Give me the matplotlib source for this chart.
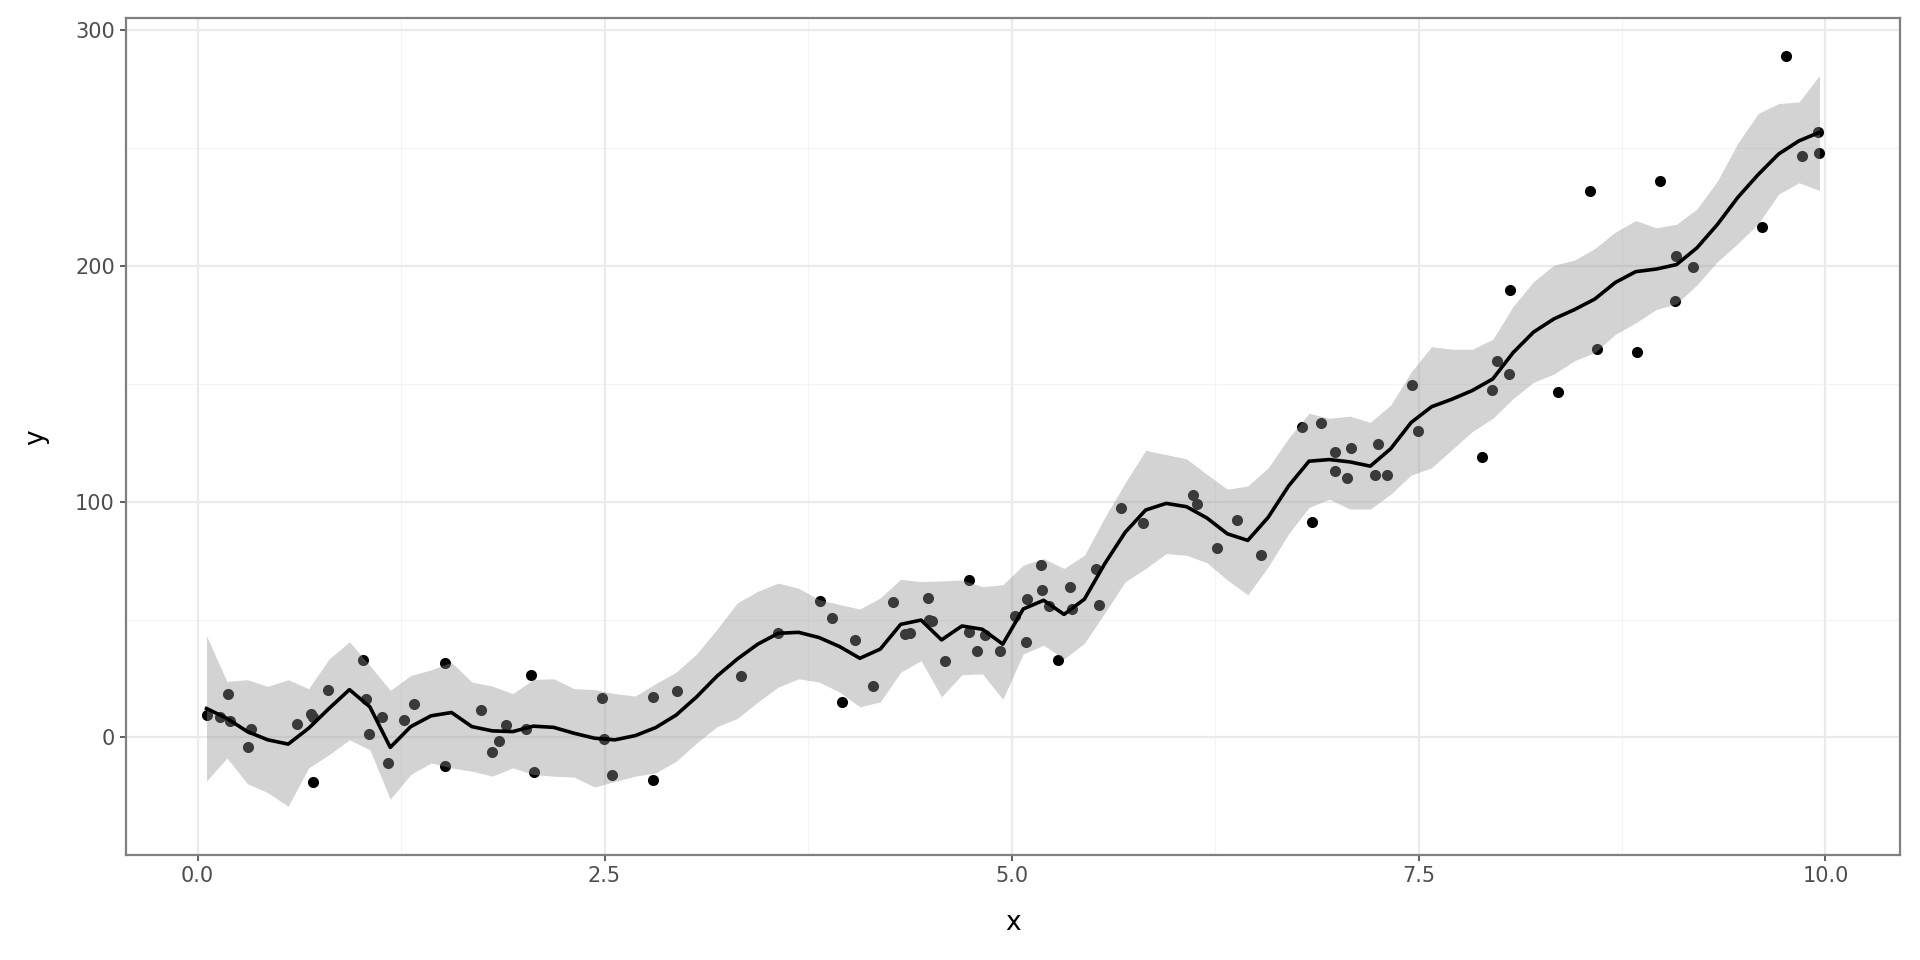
import matplotlib
matplotlib.use("Agg")
import matplotlib.pyplot as plt
import numpy as np

# observed points
x_pts = [0.055, 0.137, 0.188, 0.198, 0.307, 0.33, 0.61, 0.694, 0.706, 0.71,
         0.80, 1.017, 1.037, 1.054, 1.13, 1.17, 1.269, 1.332, 1.518, 1.522,
         1.743, 1.81, 1.85, 1.897, 2.02, 2.046, 2.069, 2.486, 2.497, 2.548,
         2.795, 2.795, 2.947, 3.339, 3.565, 3.826, 3.90, 3.958, 4.037, 4.152,
         4.27, 4.348, 4.377, 4.489, 4.49, 4.51, 4.59, 4.737, 4.741, 4.788,
         4.837, 4.927, 5.023, 5.089, 5.097, 5.183, 5.187, 5.232, 5.285, 5.359,
         5.373, 5.519, 5.539, 5.67, 5.805, 6.114, 6.141, 6.264, 6.385, 6.534,
         6.786, 6.843, 6.90, 6.988, 6.99, 7.063, 7.088, 7.232, 7.254, 7.307,
         7.457, 7.497, 7.888, 7.953, 7.981, 8.059, 8.065, 8.356, 8.555, 8.598,
         8.841, 8.985, 9.073, 9.083, 9.185, 9.613, 9.757, 9.855, 9.957, 9.963]
y_pts = [9.5, 8.8, 18.3, 7.0, -4.1, 3.5, 5.6, 9.8, -18.9, 8.8,
         20.3, 33.0, 16.2, 1.4, 8.5, -10.8, 7.4, 14.4, -12.0, 31.8,
         11.7, -6.3, -1.7, 5.2, 3.6, 26.6, -14.5, 16.8, -0.8, -15.9,
         -17.9, 17.3, 19.7, 26.0, 44.3, 58.0, 50.6, 15.1, 41.2, 21.7,
         57.3, 43.9, 44.5, 59.3, 49.8, 49.3, 32.3, 67.0, 44.9, 36.6,
         43.5, 36.5, 51.7, 40.4, 58.7, 73.1, 62.6, 55.9, 33.0, 63.8,
         54.5, 71.3, 56.3, 97.2, 91.0, 102.9, 99.0, 80.5, 92.1, 77.6,
         131.9, 91.5, 133.5, 113.1, 121.1, 110.2, 122.9, 111.5, 124.5, 111.2,
         149.6, 129.8, 119.0, 147.5, 159.7, 154.0, 189.9, 146.4, 232.0, 165.0,
         163.7, 235.9, 185.0, 204.4, 199.5, 216.6, 289.2, 246.7, 257.0, 247.9]

# fitted curve and its band (80 evenly spaced x)
fit = [12.3, 8.1, 2.5, -1.0, -2.8, 3.9, 12.3, 20.3, 13.0, -4.2,
       4.6, 9.2, 10.6, 4.6, 2.8, 2.5, 4.8, 4.3, 1.8, -0.3,
       -1.0, 0.8, 4.2, 9.5, 17.2, 26.0, 33.3, 39.6, 44.2, 44.6,
       42.4, 38.6, 33.6, 37.5, 48.0, 49.8, 41.4, 47.3, 45.9, 39.6,
       54.5, 58.2, 52.2, 58.7, 73.8, 87.1, 96.5, 99.3, 97.9, 93.1,
       86.4, 83.6, 93.4, 106.7, 117.2, 117.9, 116.9, 115.1, 122.5, 133.6,
       140.3, 143.5, 147.2, 152.1, 163.3, 172.0, 177.6, 181.5, 186.0, 193.0,
       197.6, 198.7, 200.6, 207.7, 217.6, 229.1, 238.8, 247.5, 253.1, 256.7]
upper = [43.1, 23.8, 24.5, 21.7, 24.5, 20.7, 33.3, 40.6, 30.5, 20.0,
         26.3, 28.7, 31.9, 23.5, 21.8, 18.6, 24.6, 24.9, 20.7, 20.3,
         18.6, 17.6, 22.8, 27.7, 35.4, 45.9, 57.1, 62.0, 65.5, 63.3,
         58.5, 56.4, 54.5, 59.2, 67.1, 66.1, 66.4, 66.8, 64.0, 64.8,
         73.1, 75.9, 71.7, 77.3, 93.4, 108.1, 121.8, 120.0, 118.2, 111.6,
         105.3, 106.7, 114.4, 127.0, 137.5, 135.4, 136.3, 133.7, 141.0, 155.0,
         165.8, 164.7, 164.7, 168.9, 182.9, 193.4, 200.4, 202.5, 207.4, 214.4,
         219.3, 216.2, 217.7, 224.2, 236.0, 252.1, 264.7, 268.9, 269.6, 280.8]
lower = [-18.5, -8.7, -19.6, -23.4, -29.2, -12.9, -7.3, -1.0, -5.2, -26.2,
         -15.7, -10.8, -12.9, -14.3, -16.4, -12.9, -15.7, -16.4, -16.8, -21.0,
         -18.7, -16.4, -15.0, -10.1, -2.4, 4.6, 8.1, 15.0, 21.4, 24.9,
         23.5, 19.3, 13.0, 15.1, 27.7, 32.6, 17.2, 26.6, 27.0, 16.2,
         35.4, 39.2, 33.3, 40.0, 52.9, 66.1, 71.7, 78.0, 77.3, 74.1,
         66.8, 60.5, 72.4, 86.4, 97.6, 101.1, 96.9, 96.9, 103.2, 111.3,
         114.4, 122.1, 129.8, 135.4, 143.8, 150.7, 154.2, 159.8, 163.3, 171.0,
         175.9, 181.5, 184.0, 192.0, 201.8, 209.5, 217.9, 230.5, 235.3, 232.1]

x_ticks = [0.0, 2.5, 5.0, 7.5, 10.0]
x_tick_labels = ["0.0", "2.5", "5.0", "7.5", "10.0"]
y_ticks = [0, 100, 200, 300]

x_grid = np.linspace(min(x_pts), max(x_pts), len(fit))

fig = plt.figure(figsize=(19.2, 9.6), dpi=100)
ax = fig.add_axes([0.0656, 0.109, 0.924, 0.872])

ax.scatter(x_pts, y_pts, s=64, color="black", linewidths=0, zorder=2)
ax.fill_between(x_grid, lower, upper, color="#929292", alpha=0.4,
                linewidth=0, zorder=3)
ax.plot(x_grid, fit, color="black", linewidth=2.6, zorder=4)

ax.set_xlim(-0.44, 10.458)
ax.set_ylim(-45.5, 305.1)

ax.set_xticks(x_ticks)
ax.set_xticklabels(x_tick_labels)
ax.set_yticks(y_ticks)
ax.set_xticks([1.25, 3.75, 6.25, 8.75], minor=True)
ax.set_yticks([-50, 50, 150, 250], minor=True)

ax.grid(which="major", color="#ebebeb", linewidth=1.6, zorder=0)
ax.grid(which="minor", color="#ebebeb", linewidth=0.8, alpha=0.5, zorder=0)
ax.set_axisbelow(True)

ax.tick_params(which="major", length=4, width=1.1, color="#333333",
               labelsize=15, labelcolor="#4d4d4d", pad=4)
ax.tick_params(which="minor", length=0)

for sp in ax.spines.values():
    sp.set_color("#808080")
    sp.set_linewidth(1.6)

ax.set_xlabel("x", fontsize=19, color="black", labelpad=17)
ax.set_ylabel("y", fontsize=19, color="black", labelpad=19)

fig.savefig("out.png", dpi=100, facecolor="white")
